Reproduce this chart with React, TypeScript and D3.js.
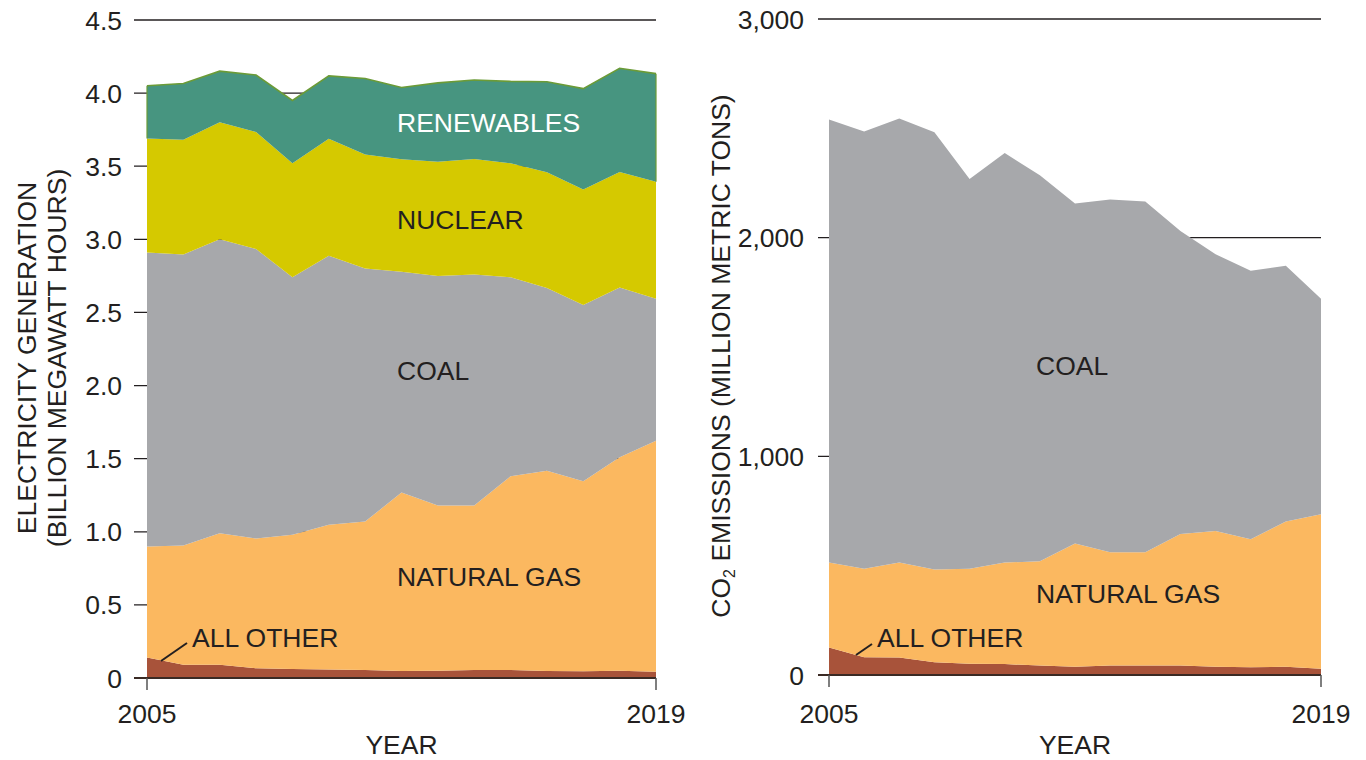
import React from "react";
import * as d3 from "d3";

const YEARS = [2005, 2006, 2007, 2008, 2009, 2010, 2011, 2012, 2013, 2014, 2015, 2016, 2017, 2018, 2019];

// Electricity generation (billion MWh), per source
const GEN_ALL_OTHER = [0.14, 0.09, 0.09, 0.066, 0.062, 0.058, 0.055, 0.048, 0.05, 0.055, 0.055, 0.048, 0.046, 0.05, 0.043];
const GEN_NATURAL_GAS = [0.76, 0.816, 0.9, 0.888, 0.918, 0.99, 1.015, 1.22, 1.13, 1.125, 1.325, 1.37, 1.3, 1.46, 1.58];
const GEN_COAL = [2.01, 1.99, 2.01, 1.98, 1.76, 1.84, 1.73, 1.51, 1.57, 1.58, 1.36, 1.25, 1.205, 1.16, 0.97];
const GEN_NUCLEAR = [0.78, 0.785, 0.8, 0.8, 0.78, 0.8, 0.78, 0.77, 0.78, 0.79, 0.78, 0.79, 0.79, 0.79, 0.8];
const GEN_RENEWABLES = [0.36, 0.385, 0.35, 0.39, 0.43, 0.43, 0.52, 0.49, 0.54, 0.54, 0.56, 0.62, 0.69, 0.71, 0.74];

// CO2 emissions (million metric tons), per source
const CO2_ALL_OTHER = [126, 81, 80, 58, 52, 50, 43, 38, 43, 43, 43, 38, 35, 38, 29];
const CO2_NATURAL_GAS = [389, 405, 435, 424, 434, 464, 477, 563, 518, 518, 602, 621, 586, 664, 706];
const CO2_COAL = [2025, 2000, 2030, 2000, 1782, 1873, 1765, 1555, 1613, 1604, 1385, 1265, 1228, 1170, 986];

const GEN_TICKS = [0, 0.5, 1.0, 1.5, 2.0, 2.5, 3.0, 3.5, 4.0, 4.5];
const GEN_TICK_LABELS = ["0", "0.5", "1.0", "1.5", "2.0", "2.5", "3.0", "3.5", "4.0", "4.5"];
const CO2_TICKS = [0, 1000, 2000, 3000];
const CO2_TICK_LABELS = ["0", "1,000", "2,000", "3,000"];
const X_TICKS = [2005, 2019];

const COLORS: Record<string, string> = {
  allOther: "#a8533a",
  gas: "#fbb860",
  coal: "#a7a8ab",
  nuclear: "#d5c900",
  renewables: "#479580",
};

const TEXT = "#231f20";
const FONT = "'Liberation Sans', Arial, Helvetica, sans-serif";
const FS = 26.5;

type Row = { year: number; [k: string]: number };

function buildRows(series: Record<string, number[]>): Row[] {
  return YEARS.map((year, i) => {
    const r: Row = { year };
    Object.keys(series).forEach((k) => (r[k] = series[k][i]));
    return r;
  });
}

function Panel(props: {
  rows: Row[];
  keys: string[];
  x0: number;
  x1: number;
  y0: number;
  y1: number;
  max: number;
  ticks: number[];
  tickLabels: string[];
  tickLeft: number;
  labelRight: number;
}) {
  const { rows, keys, x0, x1, y0, y1, max, ticks, tickLabels, tickLeft, labelRight } = props;
  const x = d3.scaleLinear().domain([YEARS[0], YEARS[YEARS.length - 1]]).range([x0, x1]);
  const y = d3.scaleLinear().domain([0, max]).range([y0, y1]);
  const stack = d3.stack<Row>().keys(keys);
  const layers = stack(rows);
  const area = d3
    .area<any>()
    .x((d) => x(d.data.year))
    .y0((d) => y(d[0]))
    .y1((d) => y(d[1]));
  const topLine = d3
    .line<any>()
    .x((d) => x(d.data.year))
    .y((d) => y(d[1]));
  return (
    <g>
      {ticks.map((t, i) => (
        <g key={t}>
          {t > 0 && (
            <line x1={tickLeft} x2={x1} y1={y(t)} y2={y(t)} stroke={TEXT} strokeWidth={1.3} />
          )}
          <text
            x={labelRight}
            y={y(t)}
            dy="0.36em"
            textAnchor="end"
            fontSize={FS}
            fill={TEXT}
          >
            {tickLabels[i]}
          </text>
        </g>
      ))}
      {layers.map((l) => (
        <path key={l.key} d={area(l as any) || ""} fill={COLORS[l.key]} stroke="none" />
      ))}
      {layers
        .filter((l) => l.key === "renewables")
        .map((l) => (
          <path
            key="rs"
            d={topLine(l as any) || ""}
            fill="none"
            stroke="#6b9b37"
            strokeWidth={1.6}
          />
        ))}
      {layers
        .filter((l) => l.key === "renewables")
        .map((l) => (
          <g key="sides">
            <line x1={x0} x2={x0} y1={y(l[0][0])} y2={y(l[0][1])} stroke="#6b9b37" strokeWidth={1.2} />
            <line
              x1={x1}
              x2={x1}
              y1={y(l[l.length - 1][0])}
              y2={y(l[l.length - 1][1])}
              stroke="#6b9b37"
              strokeWidth={1.2}
            />
          </g>
        ))}
      <line x1={tickLeft} x2={x1} y1={y(0)} y2={y(0)} stroke="#3a2a24" strokeWidth={2} />
      {X_TICKS.map((t) => (
        <g key={t}>
          <line x1={x(t)} x2={x(t)} y1={y(0)} y2={y(0) + 12} stroke="#555" strokeWidth={1.5} />
          <text x={x(t)} y={723} textAnchor="middle" fontSize={FS} fill={TEXT}>
            {t}
          </text>
        </g>
      ))}
      <text x={(x0 + x1) / 2} y={754} textAnchor="middle" fontSize={FS} fill={TEXT}>
        YEAR
      </text>
    </g>
  );
}

export default function App() {
  const genRows = buildRows({
    allOther: GEN_ALL_OTHER,
    gas: GEN_NATURAL_GAS,
    coal: GEN_COAL,
    nuclear: GEN_NUCLEAR,
    renewables: GEN_RENEWABLES,
  });
  const co2Rows = buildRows({
    allOther: CO2_ALL_OTHER,
    gas: CO2_NATURAL_GAS,
    coal: CO2_COAL,
  });
  return (
    <svg
      width={1366}
      height={760}
      style={{ position: "absolute", left: 0, top: 0, background: "#fff" }}
      fontFamily={FONT}
    >
      <rect width={1366} height={760} fill="#fff" />
      <Panel
        rows={genRows}
        keys={["allOther", "gas", "coal", "nuclear", "renewables"]}
        x0={147}
        x1={656}
        y0={678}
        y1={20}
        max={4.5}
        ticks={GEN_TICKS}
        tickLabels={GEN_TICK_LABELS}
        tickLeft={134}
        labelRight={122}
      />
      <Panel
        rows={co2Rows}
        keys={["allOther", "gas", "coal"]}
        x0={829}
        x1={1321}
        y0={675}
        y1={19}
        max={3000}
        ticks={CO2_TICKS}
        tickLabels={CO2_TICK_LABELS}
        tickLeft={818}
        labelRight={804}
      />

      {/* left axis title */}
      <text transform="translate(36,358) rotate(-90)" textAnchor="middle" fontSize={FS} fill={TEXT}>
        ELECTRICITY GENERATION
      </text>
      <text transform="translate(66,358) rotate(-90)" textAnchor="middle" fontSize={FS} fill={TEXT}>
        (BILLION MEGAWATT HOURS)
      </text>
      {/* right axis title */}
      <text transform="translate(730,356) rotate(-90)" textAnchor="middle" fontSize={FS} fill={TEXT}>
        CO
        <tspan fontSize={16} dy={5}>
          2
        </tspan>
        <tspan dy={-5}> EMISSIONS (MILLION METRIC TONS)</tspan>
      </text>

      {/* left series labels */}
      <text x={397} y={132} fontSize={FS} fill="#ffffff">RENEWABLES</text>
      <text x={397} y={229} fontSize={FS} fill={TEXT}>NUCLEAR</text>
      <text x={397} y={380} fontSize={FS} fill={TEXT}>COAL</text>
      <text x={397} y={586} fontSize={FS} fill={TEXT}>NATURAL GAS</text>
      <text x={192} y={647} fontSize={FS} fill={TEXT}>ALL OTHER</text>
      <line x1={161} y1={661} x2={187} y2={643} stroke={TEXT} strokeWidth={2} />

      {/* right series labels */}
      <text x={1036} y={375} fontSize={FS} fill={TEXT}>COAL</text>
      <text x={1036} y={603} fontSize={FS} fill={TEXT}>NATURAL GAS</text>
      <text x={877} y={647} fontSize={FS} fill={TEXT}>ALL OTHER</text>
      <line x1={856} y1={655} x2={872} y2={644} stroke={TEXT} strokeWidth={2} />
    </svg>
  );
}
